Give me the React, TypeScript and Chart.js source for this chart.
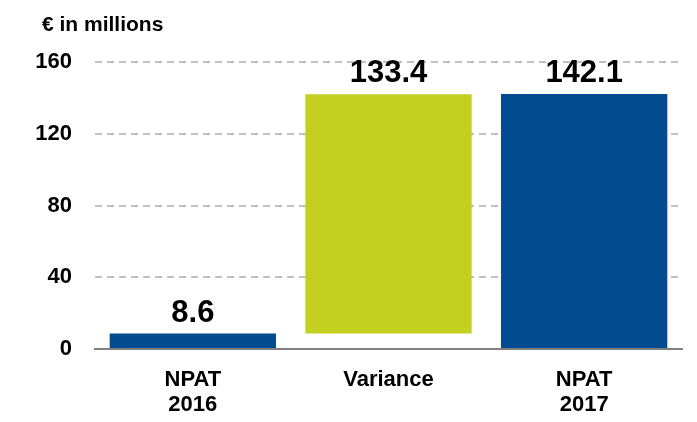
import React, { useEffect, useRef } from "react";
import { Chart, registerables } from "chart.js";

Chart.register(...registerables);

const categories: string[][] = [["NPAT", "2016"], ["Variance"], ["NPAT", "2017"]];
const barStarts = [0, 8.6, 0];
const barEnds = [8.6, 142.0, 142.1];
const valueLabels = ["8.6", "133.4", "142.1"];
const barColors = ["#034b8f", "#c3cf21", "#034b8f"];
const yTicks = [0, 40, 80, 120, 160];
const axisTitle = "€ in millions";

const FONT = "Arial, 'Liberation Sans', sans-serif";

export default function App() {
  const ref = useRef<HTMLCanvasElement | null>(null);

  useEffect(() => {
    document.body.style.margin = "0";
    const canvas = ref.current;
    if (!canvas) return;

    const labelPlugin = {
      id: "labels",
      afterDatasetsDraw(chart: any) {
        const ctx = chart.ctx;
        const meta = chart.getDatasetMeta(0);
        ctx.save();
        ctx.fillStyle = "#000";
        ctx.font = `bold 31px ${FONT}`;
        ctx.textAlign = "center";
        ctx.textBaseline = "bottom";
        meta.data.forEach((bar: any, i: number) => {
          const top = Math.min(bar.y, bar.base);
          ctx.fillText(valueLabels[i], bar.x, top - 5);
        });
        ctx.font = `bold 21px ${FONT}`;
        ctx.textAlign = "left";
        ctx.textBaseline = "middle";
        ctx.fillText(axisTitle, 42, 25);
        ctx.restore();
      },
    };

    const chart = new Chart(canvas, {
      type: "bar",
      data: {
        labels: categories,
        datasets: [
          {
            data: barStarts.map((s, i) => [s, barEnds[i]]),
            backgroundColor: barColors,
            borderWidth: 0,
            categoryPercentage: 0.85,
            barPercentage: 1,
          },
        ],
      },
      options: {
        animation: false,
        responsive: false,
        maintainAspectRatio: false,
        layout: { padding: { left: 0, right: 15, top: 62, bottom: 0 } },
        plugins: { legend: { display: false }, tooltip: { enabled: false } },
        scales: {
          x: {
            grid: { display: false, drawTicks: false },
            border: { display: true, color: "#808080", width: 2 },
            ticks: {
              color: "#000",
              font: { family: FONT, size: 22, weight: "bold", lineHeight: 1.15 },
              padding: 18,
              maxRotation: 0,
            },
            afterFit(scale: any) {
              scale.height = 73;
            },
          },
          y: {
            min: 0,
            max: 160,
            afterBuildTicks(scale: any) {
              scale.ticks = yTicks.map((v) => ({ value: v }));
            },
            grid: {
              drawTicks: false,
              color: (c: any) => (c.tick && c.tick.value === 0 ? "rgba(0,0,0,0)" : "#c0c0c0"),
              lineWidth: 2,
            },
            border: { display: false, dash: [7, 5] },
            ticks: {
              color: "#000",
              font: { family: FONT, size: 22, weight: "bold" },
              padding: 23,
            },
            afterFit(scale: any) {
              scale.width = 95;
            },
          },
        },
      },
      plugins: [labelPlugin],
    } as any);

    return () => chart.destroy();
  }, []);

  return (
    <div style={{ width: 697, height: 422 }}>
      <canvas ref={ref} width={697} height={422} style={{ display: "block" }} />
    </div>
  );
}
